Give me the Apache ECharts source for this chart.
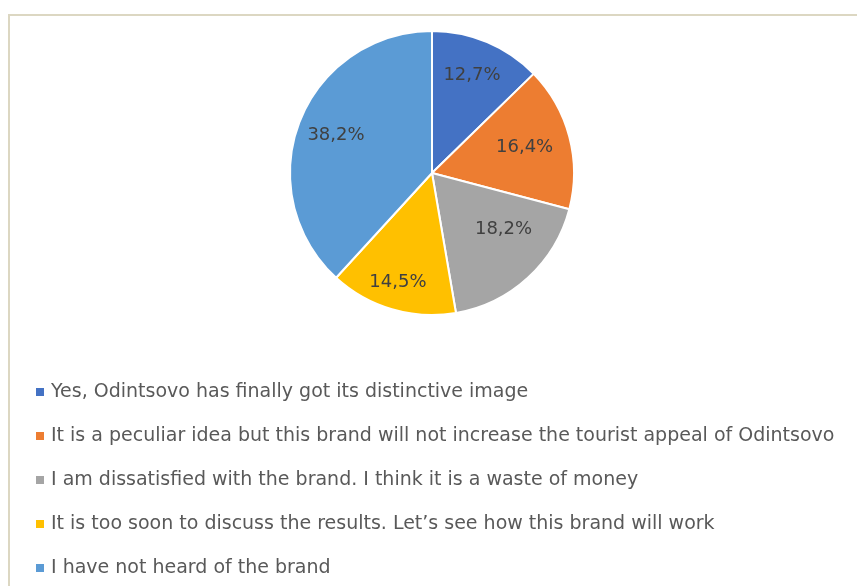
<!DOCTYPE html>
<html>
<head>
<meta charset="utf-8">
<script src="https://cdn.jsdelivr.net/npm/echarts@6/dist/echarts.min.js"></script>
<style>
  html, body { margin: 0; padding: 0; background: #ffffff; }
  #chart { width: 857px; height: 586px; }
</style>
</head>
<body>
<div id="chart"></div>
<script>
// Survey answers and their shares (%)
const categories = [
  'Yes, Odintsovo has finally got its distinctive image',
  'It is a peculiar idea but this brand will not increase the tourist appeal of Odintsovo',
  'I am dissatisfied with the brand. I think it is a waste of money',
  "It is too soon to discuss the results. Let\u2019s see how this brand will work",
  'I have not heard of the brand'
];
const shares = [12.7, 16.4, 18.2, 14.5, 38.2];
const colors = ['#4472C4', '#ED7D31', '#A5A5A5', '#FFC000', '#5B9BD5'];

const FONT = '"DejaVu Sans", sans-serif';
const CENTER = [432, 173];
const R = 142;

// small nudges so each percentage sits where it reads best inside its slice
const labelNudge = [[0, -3], [-7, 1], [2, -20], [-5, 11], [0, 0]];

const pieData = categories.map((name, i) => ({
  name: name,
  value: shares[i],
  itemStyle: { color: colors[i] }
}));

const fmt = v => v.toFixed(1).replace('.', ',') + '%';

const chart = echarts.init(document.getElementById('chart'), null, { renderer: 'canvas' });
chart.setOption({
  animation: false,
  backgroundColor: '#ffffff',
  graphic: [{
    type: 'rect',
    silent: true,
    shape: { x: 9, y: 15, width: 900, height: 620 },
    style: { fill: 'none', stroke: '#dcd7c2', lineWidth: 2 }
  }],
  legend: {
    orient: 'vertical',
    left: 29,
    top: 377,
    height: 205,
    itemWidth: 10,
    itemHeight: 10,
    itemGap: 24,
    icon: 'rect',
    data: categories,
    textStyle: {
      fontFamily: FONT,
      fontSize: 19,
      color: '#595959',
      lineHeight: 20,
      padding: [0, 0, 0, 1]
    }
  },
  series: [
    {
      type: 'pie',
      center: CENTER,
      radius: R,
      startAngle: 90,
      clockwise: true,
      silent: true,
      data: pieData,
      itemStyle: { borderColor: '#ffffff', borderWidth: 2 },
      label: { show: false },
      labelLine: { show: false }
    },
    {
      // transparent ring used only to place the percentage labels
      type: 'pie',
      center: CENTER,
      radius: [58, R],
      startAngle: 90,
      clockwise: true,
      silent: true,
      data: pieData.map((d, i) => ({
        name: d.name,
        value: d.value,
        label: { offset: labelNudge[i] }
      })),
      itemStyle: { color: 'rgba(0,0,0,0)' },
      label: {
        show: true,
        position: 'inside',
        formatter: p => fmt(p.value),
        fontFamily: FONT,
        fontSize: 18,
        color: '#404040'
      },
      labelLine: { show: false }
    }
  ]
});
</script>
</body>
</html>
